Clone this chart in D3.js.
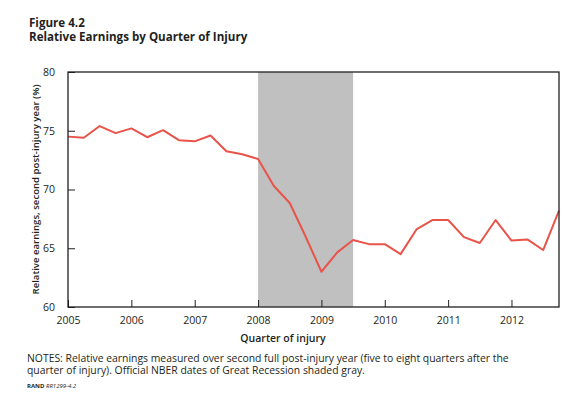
<!DOCTYPE html>
<html>
<head>
<meta charset="utf-8">
<script src="https://cdn.jsdelivr.net/npm/d3@7"></script>
<style>
  body { margin: 0; background: #fff; }
  text { font-family: "Open Sans", sans-serif; fill: #231f20; }
</style>
</head>
<body>
<div id="chart"></div>
<script>
// quarter of injury (year + quarter fraction)
var quarters = [
  2005.0, 2005.25, 2005.5, 2005.75, 2006.0, 2006.25, 2006.5, 2006.75,
  2007.0, 2007.25, 2007.5, 2007.75, 2008.0, 2008.25, 2008.5, 2008.75,
  2009.0, 2009.25, 2009.5, 2009.75, 2010.0, 2010.25, 2010.5, 2010.75,
  2011.0, 2011.25, 2011.5, 2011.75, 2012.0, 2012.25, 2012.5, 2012.75
];
// relative earnings, second post-injury year (%)
var earnings = [
  74.5, 74.4, 75.4, 74.8, 75.2, 74.45, 75.05, 74.2,
  74.1, 74.6, 73.25, 73.0, 72.6, 70.3, 68.85, 66.0,
  63.0, 64.65, 65.7, 65.35, 65.35, 64.5, 66.6, 67.4,
  67.4, 65.95, 65.45, 67.4, 65.65, 65.75, 64.85, 68.2
];
var xTicks = [2005, 2006, 2007, 2008, 2009, 2010, 2011, 2012];
var yTicks = [60, 65, 70, 75, 80];
// NBER recession dates
var recession = [2008.0, 2009.5];

var svgWidth = 580;
var svgHeight = 402;
var margin = { top: 72, right: 21, bottom: 95, left: 68 };
var width = svgWidth - margin.left - margin.right;
var height = svgHeight - margin.top - margin.bottom;

var svg = d3.select("#chart")
  .append("svg")
  .attr("width", svgWidth)
  .attr("height", svgHeight);

// titles
svg.append("text")
  .attr("x", 29).attr("y", 26.5)
  .attr("font-size", "11.6px").attr("font-weight", "bold")
  .text("Figure 4.2");
svg.append("text")
  .attr("x", 29).attr("y", 40.5)
  .attr("font-size", "11.6px").attr("font-weight", "bold")
  .text("Relative Earnings by Quarter of Injury");

var chartGroup = svg.append("g")
  .attr("transform", `translate(${margin.left}, ${margin.top})`);

// scales
var xScale = d3.scaleLinear()
  .domain([2005, 2012.75])
  .range([0, width]);
var yScale = d3.scaleLinear()
  .domain([60, 80])
  .range([height, 0]);

// recession shading
chartGroup.append("rect")
  .attr("x", xScale(recession[0]))
  .attr("y", 0)
  .attr("width", xScale(recession[1]) - xScale(recession[0]))
  .attr("height", height)
  .attr("fill", "#c0c0c0");

// axes, ticks point inwards
var xAxis = d3.axisBottom(xScale)
  .tickValues(xTicks)
  .tickFormat(d3.format("d"))
  .tickSizeInner(-7)
  .tickSizeOuter(0)
  .tickPadding(10);
var yAxis = d3.axisLeft(yScale)
  .tickValues(yTicks)
  .tickSizeInner(-7)
  .tickSizeOuter(0)
  .tickPadding(13);

var xg = chartGroup.append("g")
  .attr("transform", `translate(0, ${height})`)
  .call(xAxis);
var yg = chartGroup.append("g")
  .call(yAxis);

[xg, yg].forEach(function (g) {
  g.select(".domain").remove();
  g.selectAll(".tick line").attr("stroke", "#231f20").attr("stroke-width", 1);
  g.selectAll(".tick text")
    .attr("font-family", "Open Sans")
    .attr("font-size", "10.5px")
    .attr("fill", "#231f20");
});

// line
var line = d3.line()
  .x(function (d, i) { return xScale(quarters[i]); })
  .y(function (d) { return yScale(d); });

chartGroup.append("path")
  .datum(earnings)
  .attr("d", line)
  .attr("fill", "none")
  .attr("stroke", "#e8534a")
  .attr("stroke-width", 2)
  .attr("stroke-linejoin", "round");

// plot frame
chartGroup.append("rect")
  .attr("width", width)
  .attr("height", height)
  .attr("fill", "none")
  .attr("stroke", "#231f20")
  .attr("stroke-width", 1.3);

// axis labels
chartGroup.append("text")
  .attr("transform", "rotate(-90)")
  .attr("x", 0 - height / 2)
  .attr("y", 0 - margin.left + 38.5)
  .attr("text-anchor", "middle")
  .attr("font-size", "9.6px")
  .attr("font-weight", 600)
  .text("Relative earnings, second post-injury year (%)");

chartGroup.append("text")
  .attr("x", 215)
  .attr("y", height + 34.5)
  .attr("text-anchor", "middle")
  .attr("font-size", "10.5px")
  .attr("font-weight", 600)
  .text("Quarter of injury");

// notes
svg.append("text")
  .attr("x", 27).attr("y", 361.5)
  .attr("font-size", "10.4px")
  .text("NOTES: Relative earnings measured over second full post-injury year (five to eight quarters after the");
svg.append("text")
  .attr("x", 27).attr("y", 374)
  .attr("font-size", "10.4px")
  .text("quarter of injury). Official NBER dates of Great Recession shaded gray.");

var src = svg.append("text")
  .attr("x", 27).attr("y", 387.5)
  .attr("font-size", "6px");
src.append("tspan").attr("font-weight", "bold").text("RAND ");
src.append("tspan").attr("font-style", "italic").text("RR1299-4.2");
</script>
</body>
</html>
